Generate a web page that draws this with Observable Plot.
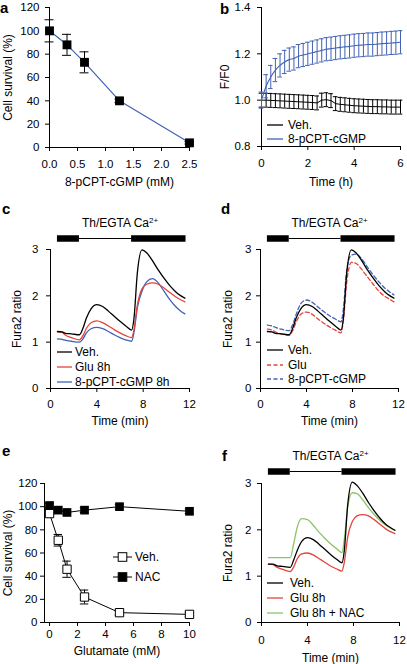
<!DOCTYPE html>
<html><head><meta charset="utf-8">
<script src="https://cdn.jsdelivr.net/npm/d3@7"></script>
<script src="https://cdn.jsdelivr.net/npm/@observablehq/plot@0.6"></script>
<style>
html,body{margin:0;padding:0;background:#fff;}
#fig{position:relative;width:407px;height:664px;overflow:hidden;font-family:'Liberation Sans',Arial,Helvetica,sans-serif;color:#000;background:#fff;}
.plab{position:absolute;font-weight:bold;font-size:15px;line-height:15px;}
.lt{position:absolute;font-size:12px;line-height:14px;white-space:nowrap;}
</style></head><body><div id="fig"></div>
<script>
// ---------- panel a ----------
const aDose = [0, 0.3125, 0.625, 1.25, 2.5];
const aSurvival = [100, 88, 73, 40, 4];
const aErr = [9.5, 9, 9, 1.5, 1];
const aXTicks = [0, 0.5, 1, 1.5, 2, 2.5];
const aYTicks = [0, 20, 40, 60, 80, 100, 120];

// ---------- panel b ----------
const bTime = [0,0.2,0.4,0.6,0.8,1.0,1.2,1.4,1.6,1.8,2.0,2.2,2.4,2.6,2.8,3.0,3.2,3.4,3.6,3.8,4.0,4.2,4.4,4.6,4.8,5.0,5.2,5.4,5.6,5.8,6.0];
const bVeh = [1.0,1.0,0.999,0.998,0.997,0.996,0.995,0.994,0.993,0.992,0.991,0.99,0.988,1.0,1.002,0.998,0.985,0.982,0.98,0.978,0.976,0.975,0.974,0.973,0.972,0.972,0.971,0.971,0.97,0.97,0.97];
const bVehErr = [0.03,0.03,0.03,0.03,0.03,0.03,0.03,0.03,0.03,0.03,0.03,0.03,0.03,0.03,0.03,0.03,0.03,0.03,0.03,0.03,0.03,0.03,0.03,0.03,0.03,0.03,0.03,0.03,0.03,0.03,0.03];
const bCgmp = [1.0,1.06,1.10,1.13,1.15,1.165,1.175,1.18,1.19,1.195,1.20,1.205,1.21,1.215,1.22,1.222,1.225,1.228,1.23,1.232,1.235,1.237,1.238,1.24,1.24,1.242,1.244,1.245,1.247,1.248,1.25];
const bCgmpErr = [0.035,0.05,0.05,0.05,0.05,0.05,0.05,0.05,0.05,0.05,0.05,0.05,0.05,0.05,0.05,0.05,0.05,0.05,0.05,0.05,0.05,0.05,0.05,0.05,0.05,0.05,0.05,0.05,0.05,0.05,0.05];
const bXTicks = [0, 2, 4, 6];
const bYTicks = [0.8, 1.0, 1.2, 1.4];

// ---------- Fura2 panels c, d, f ----------
const fuTime = [0.6,1.0,1.3,1.8,2.5,2.8,3.1,3.5,4.0,4.5,5.0,5.5,6.0,6.5,7.0,7.2,7.5,7.9,8.3,8.8,9.3,9.8,10.3,10.8,11.2,11.6];
const cVeh  = [1.23,1.22,1.19,1.18,1.16,1.30,1.52,1.72,1.81,1.77,1.67,1.56,1.45,1.35,1.26,1.50,2.50,2.99,2.93,2.76,2.56,2.38,2.22,2.09,2.01,1.95];
const cGlu  = [1.22,1.21,1.15,1.10,1.05,1.14,1.30,1.42,1.46,1.42,1.35,1.27,1.20,1.14,1.10,1.26,1.80,2.15,2.25,2.28,2.25,2.17,2.07,1.98,1.92,1.87];
const cCgmp = [1.07,1.06,1.04,1.02,1.00,1.07,1.20,1.29,1.32,1.29,1.23,1.16,1.10,1.05,1.02,1.20,1.75,2.10,2.30,2.37,2.28,2.10,1.92,1.77,1.68,1.61];
const dVeh  = [1.23,1.22,1.19,1.18,1.16,1.30,1.52,1.72,1.81,1.77,1.67,1.56,1.45,1.35,1.26,1.50,2.50,2.99,2.93,2.76,2.56,2.38,2.22,2.09,2.01,1.95];
const dGlu  = [1.28,1.26,1.22,1.18,1.15,1.25,1.43,1.60,1.65,1.60,1.50,1.41,1.33,1.26,1.20,1.45,2.30,2.72,2.70,2.57,2.41,2.25,2.10,1.99,1.93,1.87];
const dCgmp = [1.37,1.35,1.32,1.28,1.25,1.38,1.60,1.83,1.91,1.86,1.76,1.66,1.57,1.50,1.44,1.70,2.55,2.88,2.90,2.80,2.62,2.45,2.30,2.17,2.09,2.02];
const fVeh  = [1.26,1.26,1.23,1.21,1.19,1.35,1.55,1.75,1.83,1.79,1.69,1.58,1.47,1.37,1.29,1.55,2.55,3.03,2.96,2.79,2.59,2.41,2.25,2.12,2.05,1.99];
const fGlu  = [1.26,1.25,1.20,1.15,1.10,1.20,1.37,1.48,1.50,1.46,1.38,1.30,1.22,1.16,1.11,1.30,1.85,2.18,2.30,2.33,2.30,2.22,2.12,2.02,1.96,1.92];
const fNac  = [1.40,1.40,1.40,1.40,1.40,1.70,2.05,2.24,2.22,2.10,1.95,1.82,1.70,1.60,1.51,1.80,2.50,2.80,2.78,2.65,2.48,2.33,2.20,2.10,2.04,1.99];
const thickStart = [0.6, 7.0];
const thickEnd = [2.5, 11.7];
const thinStart = [2.5];
const thinEnd = [7.0];
const fuXTicks = [0, 4, 8, 12];
const fuYTicks = [0, 1, 2, 3];
const protocolTitle = "Th/EGTA Ca2+";

// ---------- panel e ----------
const eConc = [0, 0.625, 1.25, 2.5, 5, 10];
const eVeh = [94, 71, 46, 22, 8.5, 7];
const eVehErr = [3, 5, 7, 6, 2, 2];
const eNac = [101, 97, 95, 97, 100, 96];
const eNacErr = [2, 2, 2, 2, 2, 2];
const eXTicks = [0, 2, 4, 6, 8, 10];
const eYTicks = [0, 20, 40, 60, 80, 100, 120];

// ---------- styling ----------
const FONT = "'Liberation Sans', Arial, Helvetica, sans-serif";
const BLUE = "#4262b4";
const RED = "#e3443b";
const GREEN = "#8cc46a";
const TICK_FS = 11.5;
const fig = document.getElementById("fig");

function put(node, left, top) {
  node.style.position = "absolute";
  node.style.left = left + "px";
  node.style.top = top + "px";
  fig.appendChild(node);
}

function axisMarks(o) {
  return [
    Plot.ruleX([o.xDomain[0]], {stroke: "black", strokeWidth: 1}),
    Plot.ruleY([o.yDomain[0]], {stroke: "black", strokeWidth: 1}),
    Plot.axisX({ticks: o.xTicks, tickFormat: o.xFmt, tickSize: 4, tickPadding: o.xPad, label: null, fontSize: TICK_FS}),
    Plot.axisY({ticks: o.yTicks, tickFormat: o.yFmt, tickSize: 4, tickPadding: o.yPad, label: null, fontSize: TICK_FS}),
    Plot.axisX({ticks: [], tickSize: 0, label: o.xLabel, labelAnchor: "center", labelArrow: "none", labelOffset: o.xOff, fontSize: 12}),
    Plot.axisY({ticks: [], tickSize: 0, label: o.yLabel, labelAnchor: "center", labelArrow: "none", labelOffset: o.yOff, fontSize: 12})
  ];
}

function errMarks(data, color, half) {
  return [
    Plot.ruleX(data, {x: "x", y1: d => d.y - d.e, y2: d => d.y + d.e, stroke: color, strokeWidth: 1}),
    Plot.ruleY(data, {x1: d => d.x - half, x2: d => d.x + half, y: d => d.y + d.e, stroke: color, strokeWidth: 1}),
    Plot.ruleY(data, {x1: d => d.x - half, x2: d => d.x + half, y: d => d.y - d.e, stroke: color, strokeWidth: 1})
  ];
}

function baseStyle() {
  return {fontFamily: FONT, background: "transparent", overflow: "visible", color: "black"};
}

function fixSuperscript(svg) {
  d3.select(svg).selectAll("text").filter(function () { return this.textContent === protocolTitle; })
    .each(function () {
      const t = d3.select(this);
      t.text(null);
      t.append("tspan").text("Th/EGTA Ca");
      t.append("tspan").attr("font-size", 8).attr("dy", "-0.45em").text("2+");
    });
}

function legend(items, x0, x1, tx, ys) {
  items.forEach((it, i) => {
    const y = ys[i];
    const w = x1 - x0;
    const s = d3.create("svg").attr("width", w).attr("height", 12).style("overflow", "visible");
    s.append("line").attr("x1", 0).attr("x2", w).attr("y1", 6).attr("y2", 6)
      .attr("stroke", it.color).attr("stroke-width", it.width || 1.3)
      .attr("stroke-dasharray", it.dash || null);
    if (it.marker) {
      s.append("rect").attr("x", w / 2 - 4.3).attr("y", 6 - 4.3).attr("width", 8.6).attr("height", 8.6)
        .attr("fill", it.marker === "open" ? "white" : "black").attr("stroke", "black").attr("stroke-width", 1);
    }
    put(s.node(), x0, y - 6);
    const div = document.createElement("div");
    div.className = "lt";
    div.textContent = it.label;
    put(div, tx, y - 7);
  });
}

function panelLabel(txt, left, top) {
  const d = document.createElement("div");
  d.className = "plab";
  d.textContent = txt;
  put(d, left, top);
}

// ---------- panel a ----------
const aXDomain = [0, 2.5], aYDomain = [0, 120];
const aData = aDose.map((x, i) => ({x, y: aSurvival[i], e: aErr[i]}));
const plotA = Plot.plot({
  width: 205, height: 195, marginLeft: 49, marginRight: 16, marginTop: 7, marginBottom: 48,
  style: baseStyle(),
  x: {domain: aXDomain}, y: {domain: aYDomain},
  marks: [
    ...axisMarks({xDomain: aXDomain, yDomain: aYDomain, xTicks: aXTicks, yTicks: aYTicks, xFmt: d3.format(".1f"), yFmt: d3.format("d"),
      xPad: 8, yPad: 6, xLabel: "8-pCPT-cGMP (mM)", yLabel: "Cell survival (%)", xOff: 38, yOff: 46}),
    ...errMarks(aData, "black", 0.08),
    Plot.line(aData, {x: "x", y: "y", stroke: BLUE, strokeWidth: 1.2}),
    Plot.dot(aData, {x: "x", y: "y", symbol: "square", r: 5, fill: "black", stroke: "none"})
  ]
});
put(plotA, 0, 0);

// ---------- panel b ----------
const bXDomain = [0, 6], bYDomain = [0.8, 1.4];
const bVehData = bTime.map((x, i) => ({x, y: bVeh[i], e: bVehErr[i]}));
const bCgmpData = bTime.map((x, i) => ({x, y: bCgmp[i], e: bCgmpErr[i]}));
const plotB = Plot.plot({
  width: 202, height: 195, marginLeft: 56, marginRight: 7, marginTop: 7, marginBottom: 49,
  style: baseStyle(),
  x: {domain: bXDomain}, y: {domain: bYDomain},
  marks: [
    ...axisMarks({xDomain: bXDomain, yDomain: bYDomain, xTicks: bXTicks, yTicks: bYTicks, xFmt: d3.format("d"), yFmt: d3.format(".1f"),
      xPad: 8, yPad: 7, xLabel: "Time (h)", yLabel: "F/F0", xOff: 39, yOff: 41}),
    ...errMarks(bVehData, "black", 0.1),
    Plot.line(bVehData, {x: "x", y: "y", stroke: "black", strokeWidth: 1}),
    ...errMarks(bCgmpData, BLUE, 0.1),
    Plot.line(bCgmpData, {x: "x", y: "y", stroke: BLUE, strokeWidth: 1.1, curve: "monotone-x"})
  ]
});
put(plotB, 205, 0);
legend([{label: "Veh.", color: "black"}, {label: "8-pCPT-cGMP", color: BLUE}], 267, 283, 288, [125, 139]);

// ---------- Fura2 panels ----------
const fuXDomain = [0, 12], fuYDomain = [0, 3];
const thickBars = thickStart.map((s, i) => ({s, e: thickEnd[i]}));
const thinBars = thinStart.map((s, i) => ({s, e: thinEnd[i]}));

function furaPanel(o) {
  const marks = [
    ...axisMarks({xDomain: fuXDomain, yDomain: fuYDomain, xTicks: fuXTicks, yTicks: fuYTicks, xFmt: d3.format("d"), yFmt: d3.format("d"),
      xPad: o.xPad, yPad: o.yPad, xLabel: "Time (min)", yLabel: "Fura2 ratio", xOff: o.xOff, yOff: o.yOff}),
    Plot.ruleY(thinBars, {x1: "s", x2: "e", y: () => fuYDomain[1], dy: o.barDy, stroke: "black", strokeWidth: 1}),
    Plot.ruleY(thickBars, {x1: "s", x2: "e", y: () => fuYDomain[1], dy: o.barDy, stroke: "black", strokeWidth: 6.5}),
    Plot.text([protocolTitle], {frameAnchor: "top", dy: o.titleDy, lineAnchor: "bottom", fontSize: 12}),
    ...o.series.slice().reverse().map(s => Plot.line(fuTime.map((t, i) => ({t, v: s.values[i]})),
      {x: "t", y: "v", stroke: s.color, strokeWidth: 1.3, strokeDasharray: s.dash, curve: "monotone-x"}))
  ];
  const p = Plot.plot({
    width: o.width, height: o.height, marginLeft: o.mL, marginRight: o.mR, marginTop: o.mT, marginBottom: o.mB,
    style: baseStyle(), x: {domain: fuXDomain}, y: {domain: fuYDomain}, marks
  });
  fixSuperscript(p);
  put(p, o.left, o.top);
}

// panel c
furaPanel({left: 0, top: 195, width: 205, height: 230, mL: 50, mR: 16, mT: 54, mB: 37,
  xPad: 7, yPad: 8, xOff: 36, yOff: 38, barDy: -11, titleDy: -23,
  series: [{values: cVeh, color: "black"}, {values: cGlu, color: RED}, {values: cCgmp, color: BLUE}]});
legend([{label: "Veh.", color: "black"}, {label: "Glu 8h", color: RED}, {label: "8-pCPT-cGMP 8h", color: BLUE}], 57, 72, 75, [352, 367, 382]);

// panel d
furaPanel({left: 205, top: 195, width: 202, height: 230, mL: 55, mR: 9, mT: 54, mB: 37,
  xPad: 7, yPad: 5, xOff: 36, yOff: 37, barDy: -11, titleDy: -23,
  series: [{values: dVeh, color: "black"}, {values: dGlu, color: RED, dash: "4,2.5"}, {values: dCgmp, color: BLUE, dash: "4,2.5"}]});
legend([{label: "Veh.", color: "black"}, {label: "Glu", color: RED, dash: "4,2.5"}, {label: "8-pCPT-cGMP", color: BLUE, dash: "4,2.5"}], 267, 283, 288, [350, 365, 379]);

// ---------- panel e ----------
const eXDomain = [-0.36, 10], eYDomain = [0, 120];
const eVehData = eConc.map((x, i) => ({x, y: eVeh[i], e: eVehErr[i]}));
const eNacData = eConc.map((x, i) => ({x, y: eNac[i], e: eNacErr[i]}));
const plotE = Plot.plot({
  width: 205, height: 239, marginLeft: 44, marginRight: 16, marginTop: 58, marginBottom: 42,
  style: baseStyle(),
  x: {domain: eXDomain}, y: {domain: eYDomain},
  marks: [
    ...axisMarks({xDomain: eXDomain, yDomain: eYDomain, xTicks: eXTicks, yTicks: eYTicks, xFmt: d3.format("d"), yFmt: d3.format("d"),
      xPad: 3, yPad: 3, xLabel: "Glutamate (mM)", yLabel: "Cell survival (%)", xOff: 32, yOff: 41}),
    ...errMarks(eVehData, "black", 0.3),
    Plot.line(eVehData, {x: "x", y: "y", stroke: "black", strokeWidth: 1}),
    Plot.dot(eVehData, {x: "x", y: "y", symbol: "square", r: 4.7, fill: "white", stroke: "black", strokeWidth: 1}),
    ...errMarks(eNacData, "black", 0.3),
    Plot.line(eNacData, {x: "x", y: "y", stroke: "black", strokeWidth: 1}),
    Plot.dot(eNacData, {x: "x", y: "y", symbol: "square", r: 4.9, fill: "black", stroke: "none"})
  ]
});
put(plotE, 0, 425);
legend([{label: "Veh.", color: "black", width: 1, marker: "open"}, {label: "NAC", color: "black", width: 1, marker: "filled"}], 113, 132, 135, [557, 577]);

// panel f
furaPanel({left: 205, top: 425, width: 202, height: 239, mL: 56, mR: 8, mT: 58, mB: 42,
  xPad: 9, yPad: 6, xOff: 39, yOff: 38, barDy: -12, titleDy: -24,
  series: [{values: fVeh, color: "black"}, {values: fGlu, color: RED}, {values: fNac, color: GREEN}]});
legend([{label: "Veh.", color: "black"}, {label: "Glu 8h", color: RED}, {label: "Glu 8h + NAC", color: GREEN}], 267, 283, 290, [583, 598, 613]);

// panel letters
panelLabel("a", 0, 0);
panelLabel("b", 220, 1);
panelLabel("c", 2, 201);
panelLabel("d", 221, 201);
panelLabel("e", 2, 443);
panelLabel("f", 222, 448);
</script></body></html>
